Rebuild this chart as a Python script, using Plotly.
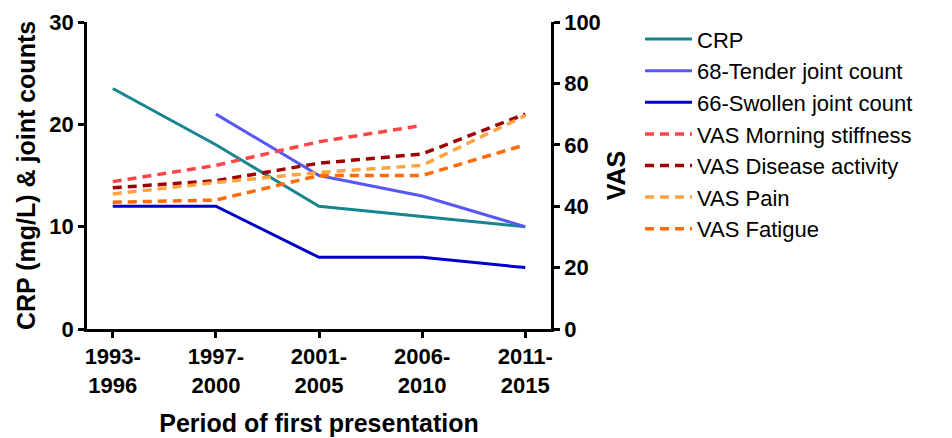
import plotly.graph_objects as go

periods = ["1993-<br>1996", "1997-<br>2000", "2001-<br>2005", "2006-<br>2010", "2011-<br>2015"]

crp = [23.5, 18.0, 12.0, 11.0, 10.0]
tender = [None, 21.0, 15.0, 13.0, 10.0]
swollen = [12.0, 12.0, 7.0, 7.0, 6.0]

vas_morning = [48.0, 53.3, 61.0, 66.3, None]
vas_disease = [46.0, 48.3, 54.0, 57.0, 70.0]
vas_pain = [44.0, 47.7, 51.0, 53.3, 69.5]
vas_fatigue = [41.3, 42.0, 50.0, 50.0, 60.0]

FONT = "Liberation Sans, Arial, sans-serif"
x = list(range(len(periods)))

fig = go.Figure()

solid = [("CRP", crp, "#168590"), ("68-Tender joint count", tender, "#5858F8"),
         ("66-Swollen joint count", swollen, "#0000C8")]
for name, vals, col in solid:
    fig.add_trace(go.Scatter(x=x, y=vals, name=name, mode="lines",
                             line=dict(color=col, width=3), yaxis="y"))

dashed = [("VAS Morning stiffness", vas_morning, "#FF4646"),
          ("VAS Disease activity", vas_disease, "#A00000"),
          ("VAS Pain", vas_pain, "#FFA443"),
          ("VAS Fatigue", vas_fatigue, "#FF6A0A")]
for name, vals, col in dashed:
    fig.add_trace(go.Scatter(x=x, y=vals, name=name, mode="lines",
                             line=dict(color=col, width=3.5, dash="9px,6px"), yaxis="y2"))

axis_common = dict(showline=True, linecolor="black", linewidth=2.5, ticks="outside",
                   ticklen=6, tickwidth=2.5, tickcolor="black", showgrid=False, zeroline=False,
                   automargin=False,
                   tickfont=dict(family=FONT, size=22, color="black", weight="bold"))

TITLE_FONT = dict(family=FONT, size=25, color="black", weight="bold")

fig.update_layout(
    width=944, height=430,
    margin=dict(l=79, r=401, t=14, b=109),
    plot_bgcolor="white", paper_bgcolor="white",
    font=dict(family=FONT, color="black"),
    showlegend=True,
    legend=dict(xref="container", yref="container", x=0.6695, y=0.976,
                xanchor="left", yanchor="top",
                font=dict(family=FONT, size=22, color="black"),
                tracegroupgap=0, itemwidth=47, maxheight=400,
                bgcolor="rgba(0,0,0,0)"),
    xaxis=dict(tickmode="array", tickvals=x, ticktext=periods, range=[-0.25, 4.25],
               title=dict(text="Period of first presentation", font=TITLE_FONT, standoff=18),
               **axis_common),
    yaxis=dict(range=[0, 30], tickvals=[0, 10, 20, 30],
               title=dict(text="CRP (mg/L) & joint counts", font=TITLE_FONT, standoff=7),
               **axis_common),
    yaxis2=dict(range=[0, 100], tickvals=[0, 20, 40, 60, 80, 100], overlaying="y", side="right",
                title=dict(text="VAS", font=TITLE_FONT, standoff=8),
                **axis_common),
)

fig.write_html("out.html")
